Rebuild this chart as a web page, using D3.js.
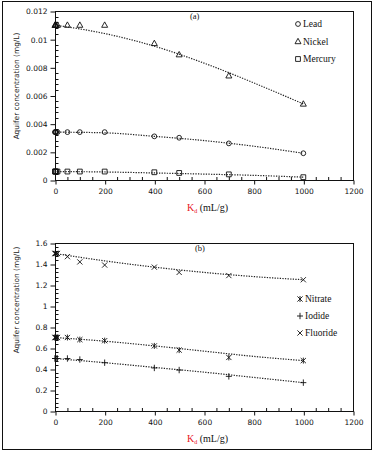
<!DOCTYPE html>
<html lang="en">
<head>
<meta charset="utf-8">
<title></title>
<script src="https://d3js.org/d3.v7.min.js"></script>
<style type="text/css">
  body { margin: 0; background: #fff; }
  .tick-label { font-family: "DejaVu Sans", sans-serif; font-size: 7.5px; fill: #111; }
  .y-title { font-family: "DejaVu Sans", sans-serif; font-size: 7.4px; fill: #222; }
  .serif { font-family: "Liberation Serif", serif; fill: #111; }
  .trend { fill: none; stroke: #222; stroke-width: 1.2px; stroke-dasharray: 1.3 1.3; }
</style>
</head>
<body>
<svg width="374" height="453"></svg>
<script>
// ---- data ----
var kd = [0, 1, 2, 5, 10, 50, 100, 200, 400, 500, 700, 1000];
var lead    = [0.0034, 0.0034, 0.0034, 0.0034, 0.0034, 0.0034, 0.0034, 0.0034, 0.0031, 0.0030, 0.0026, 0.0019];
var nickel  = [0.0110, 0.0110, 0.0110, 0.0110, 0.0110, 0.0110, 0.0110, 0.0110, 0.0097, 0.0089, 0.0074, 0.0054];
var mercury = [0.0006, 0.0006, 0.0006, 0.0006, 0.0006, 0.0006, 0.0006, 0.0006, 0.00055, 0.0005, 0.0004, 0.0002];

var nitrate  = [0.70, 0.70, 0.70, 0.70, 0.70, 0.70, 0.68, 0.67, 0.62, 0.58, 0.51, 0.48];
var iodide   = [0.50, 0.50, 0.50, 0.50, 0.50, 0.50, 0.49, 0.46, 0.41, 0.39, 0.33, 0.27];
var fluoride = [1.50, 1.50, 1.50, 1.50, 1.50, 1.47, 1.42, 1.39, 1.37, 1.32, 1.29, 1.25];

// trend lines (dotted), read at these Kd values
var kdTrend = [0, 200, 400, 600, 800, 1000];
var leadTrend    = [0.0034, 0.00335, 0.0031, 0.0028, 0.0024, 0.0019];
var nickelTrend  = [0.0110, 0.0104, 0.0095, 0.0083, 0.0069, 0.0054];
var mercuryTrend = [0.0006, 0.00057, 0.0005, 0.00042, 0.00033, 0.0002];
var nitrateTrend  = [0.70, 0.665, 0.62, 0.57, 0.52, 0.48];
var iodideTrend   = [0.50, 0.46, 0.415, 0.37, 0.32, 0.27];
var fluorideTrend = [1.50, 1.43, 1.37, 1.32, 1.28, 1.25];

var xTicks = [0, 200, 400, 600, 800, 1000, 1200];
var yTicksA = [0, 0.002, 0.004, 0.006, 0.008, 0.01, 0.012];
var yTicksB = [0, 0.2, 0.4, 0.6, 0.8, 1, 1.2, 1.4, 1.6];

var svg = d3.select("svg");

// outer frame
svg.append("rect")
  .attr("x", 2.5).attr("y", 1.5).attr("width", 369).attr("height", 448)
  .attr("fill", "none").attr("stroke", "#111").attr("stroke-width", 1);

function marker(g, type, x, y) {
  var s = 2.6, p;
  if (type == "circle") {
    g.append("circle").attr("cx", x).attr("cy", y).attr("r", 2.4)
      .attr("fill", "none").attr("stroke", "#111").attr("stroke-width", 0.9);
    return;
  }
  if (type == "triangle") p = `M${x},${y-3.2}L${x+3},${y+2.2}L${x-3},${y+2.2}Z`;
  if (type == "square") p = `M${x-2.4},${y-2.4}h4.8v4.8h-4.8Z`;
  if (type == "plus") p = `M${x-3},${y}h6M${x},${y-3.2}v6.4`;
  if (type == "times") p = `M${x-s},${y-s}L${x+s},${y+s}M${x-s},${y+s}L${x+s},${y-s}`;
  if (type == "star") p = `M${x-s},${y-s}L${x+s},${y+s}M${x-s},${y+s}L${x+s},${y-s}M${x},${y-3}v6`;
  g.append("path").attr("d", p).attr("fill", "none")
    .attr("stroke", "#111").attr("stroke-width", 0.9);
}

function panel(opt) {
  var x = d3.scaleLinear().domain([0, 1200]).range([opt.left, opt.right]);
  var y = d3.scaleLinear().domain([0, opt.ymax]).range([opt.bottom, opt.top]);
  var g = svg.append("g");

  // plot box
  g.append("rect")
    .attr("x", opt.left + 0.5).attr("y", opt.top + 0.5)
    .attr("width", opt.right - opt.left).attr("height", opt.bottom - opt.top)
    .attr("fill", "none").attr("stroke", "#111").attr("stroke-width", 1);

  // minor ticks (inside)
  d3.range(50, 1200, 50).filter(v => v % 200 != 0).forEach(function(v) {
    g.append("line").attr("x1", x(v) + 0.5).attr("x2", x(v) + 0.5)
      .attr("y1", opt.bottom).attr("y2", opt.bottom - 3).attr("stroke", "#111");
  });
  d3.range(0, opt.ymax, opt.minor).forEach(function(v, i) {
    if (i % 5 == 0) return;
    g.append("line").attr("x1", opt.left).attr("x2", opt.left + 3.5)
      .attr("y1", Math.round(y(v)) + 0.5).attr("y2", Math.round(y(v)) + 0.5).attr("stroke", "#111");
  });

  // major ticks (outside) + labels
  var xAxis = d3.axisBottom(x).tickValues(xTicks).tickSize(4).tickPadding(3).tickFormat(d3.format("d"));
  var ax = g.append("g").attr("transform", `translate(0.5, ${opt.bottom + 0.5})`).call(xAxis);
  var yAxis = d3.axisLeft(y).tickValues(opt.yTicks).tickSize(5).tickPadding(3)
    .tickFormat(d => +d.toFixed(4) + "");
  var ay = g.append("g").attr("transform", `translate(${opt.left + 0.5}, 0.5)`).call(yAxis);
  [ax, ay].forEach(function(a) {
    a.select(".domain").remove();
    a.selectAll("line").attr("stroke", "#111");
    a.selectAll("text").attr("class", "tick-label").attr("fill", null);
  });
  ax.selectAll("text").attr("dy", "0.9em");

  // trend lines
  var line = d3.line().x(d => x(d[0])).y(d => y(d[1])).curve(d3.curveMonotoneX);
  opt.series.forEach(function(s) {
    g.append("path").datum(kdTrend.map((k, i) => [k, s.trend[i]]))
      .attr("class", "trend").attr("d", line);
  });
  opt.series.forEach(function(s) {
    kd.forEach(function(k, i) { marker(g, s.shape, x(k), y(s.values[i])); });
  });

  // legend
  opt.series.slice().sort((a, b) => a.order - b.order).forEach(function(s, i) {
    var ly = opt.legendY + i * opt.legendGap;
    marker(g, s.shape, opt.legendX, ly);
    g.append("text").attr("class", "serif").attr("x", opt.legendX + 5).attr("y", ly + 3)
      .attr("font-size", "9.5px").text(s.name);
  });

  g.append("text").attr("class", "serif").attr("x", opt.tagX).attr("y", opt.top + 8)
    .attr("font-size", "8.5px").text(opt.tag);

  // axis titles
  var xt = g.append("text").attr("class", "serif").attr("x", 187).attr("y", opt.bottom + 31)
    .attr("font-size", "10px");
  xt.append("tspan").attr("fill", "#e8141b").text("K");
  xt.append("tspan").attr("fill", "#e8141b").attr("font-size", "6px").attr("dy", 2).text("d");
  xt.append("tspan").attr("dy", -2).text(" (mL/g)");

  g.append("text").attr("class", "y-title")
    .attr("transform", `translate(19, ${opt.titleY}) rotate(-90)`)
    .attr("text-anchor", "middle").text("Aquifer concentration (mg/L)");
}

panel({
  left: 55, right: 353, top: 11, bottom: 180, ymax: 0.012, minor: 0.0004,
  yTicks: yTicksA, tag: "(a)", tagX: 190, titleY: 86,
  legendX: 298, legendY: 24, legendGap: 17.5,
  series: [
    {name: "Lead", shape: "circle", values: lead, trend: leadTrend, order: 0},
    {name: "Nickel", shape: "triangle", values: nickel, trend: nickelTrend, order: 1},
    {name: "Mercury", shape: "square", values: mercury, trend: mercuryTrend, order: 2}
  ]
});

panel({
  left: 55, right: 353, top: 243, bottom: 411, ymax: 1.6, minor: 0.04,
  yTicks: yTicksB, tag: "(b)", tagX: 195, titleY: 300,
  legendX: 300, legendY: 299, legendGap: 17,
  series: [
    {name: "Nitrate", shape: "star", values: nitrate, trend: nitrateTrend, order: 0},
    {name: "Iodide", shape: "plus", values: iodide, trend: iodideTrend, order: 1},
    {name: "Fluoride", shape: "times", values: fluoride, trend: fluorideTrend, order: 2}
  ]
});
</script>
</body>
</html>
